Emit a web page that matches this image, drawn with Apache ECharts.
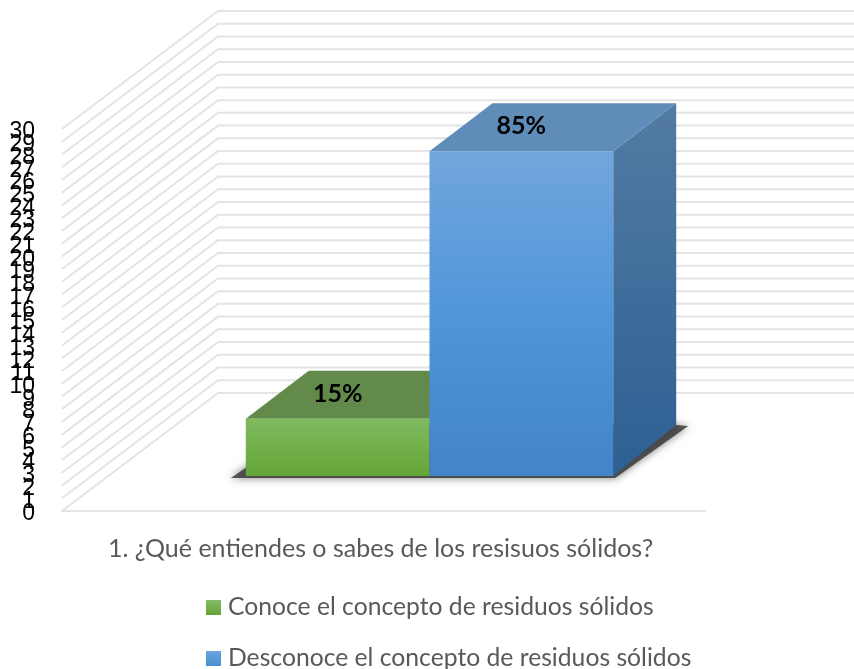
<!DOCTYPE html>
<html>
<head>
<meta charset="utf-8">
<style>
  html, body { margin: 0; padding: 0; background: #fff; }
  #chart { width: 854px; height: 669px; }
</style>
</head>
<body>
<div id="chart"></div>
<script src="https://cdn.jsdelivr.net/npm/echarts@6/dist/echarts.min.js"></script>
<script>
const categories = ['1. ¿Qué entiendes o sabes de los resisuos sólidos?']
const seriesNames = ['Conoce el concepto de residuos sólidos', 'Desconoce el concepto de residuos sólidos']
const seriesValues = [4.5, 25.5]
const seriesLabels = ['15%', '85%']
const tickValues = [0, 1, 2, 3, 4, 5, 6, 7, 8, 9, 10, 11, 12, 13, 14, 15, 16, 17, 18, 19, 20, 21, 22, 23, 24, 25, 26, 27, 28, 29, 30]

const textFont = 'Lato, "Open Sans", sans-serif'

// 3D look of the old spreadsheet chart
const wallDx = 156
const wallDy = 118
const wallRight = 854
const barLiftX = 46
const barLiftY = 35
const barDepthX = 63
const barDepthY = 48
const barsPerBand = 3.5

const vGrad = (top, bottom) => new echarts.graphic.LinearGradient(0, 0, 0, 1, [
  { offset: 0, color: top },
  { offset: 1, color: bottom }
])

const barColors = [
  { front: vGrad('#7fba60', '#65a637'), top: '#628a4b', side: vGrad('#4f7a36', '#3f6a2a'), legend: vGrad('#84bd66', '#62a335') },
  {
    front: new echarts.graphic.LinearGradient(0, 0, 0, 1, [
      { offset: 0, color: '#72a6dd' },
      { offset: 0.5, color: '#5096da' },
      { offset: 1, color: '#4284c8' }
    ]),
    top: '#5f8cb9',
    side: vGrad('#537ba3', '#2d6093'),
    legend: vGrad('#6aa5e0', '#4a8ed2')
  }
]

// wall lines for one tick, plus its label
// the labels are drawn here because the axis drops the ones that overlap
const renderWall = (params, api) => {
  const value = api.value(0)
  const p = api.coord([0, value])
  const x0 = params.coordSys.x
  return {
    type: 'group',
    children: [
      {
        type: 'polyline',
        shape: { points: [[x0, p[1]], [x0 + wallDx, p[1] - wallDy], [wallRight, p[1] - wallDy]] },
        style: { fill: null, stroke: '#e4e4e4', lineWidth: 2 }
      },
      {
        type: 'text',
        x: x0 - 27,
        y: p[1] + 3,
        style: {
          text: String(value),
          align: 'right',
          verticalAlign: 'middle',
          font: '23px "Liberation Sans", sans-serif',
          fill: '#000'
        }
      }
    ]
  }
}

// soft dark shadow on the floor under both bars
const renderShadow = (params, api) => {
  const base = api.coord([0, 0])
  const w = api.size([1, 0])[0] / barsPerBand
  const left = base[0] - w + barLiftX
  const right = base[0] + w + barLiftX
  const y = base[1] - barLiftY
  return {
    type: 'polygon',
    shape: {
      points: [
        [left - 15, y + 2],
        [right + 2, y + 2],
        [right + barDepthX + 12, y - barDepthY - 2],
        [right + barDepthX, y - barDepthY - 3],
        [left + barDepthX, y - barDepthY - 3]
      ]
    },
    style: { fill: 'rgba(60,60,60,0.85)', shadowBlur: 8, shadowColor: 'rgba(0,0,0,0.6)' }
  }
}

const renderBar = (index) => (params, api) => {
  const base = api.coord([0, 0])
  const topPos = api.coord([0, api.value(1)])
  const w = api.size([1, 0])[0] / barsPerBand
  const x0 = base[0] + (index - 1) * w + barLiftX
  const x1 = x0 + w
  const y0 = topPos[1] - barLiftY
  const y1 = base[1] - barLiftY
  const colors = barColors[index]
  return {
    type: 'group',
    children: [
      {
        type: 'polygon',
        shape: { points: [[x1, y0], [x1 + barDepthX, y0 - barDepthY], [x1 + barDepthX, y1 - barDepthY - 3], [x1, y1]] },
        style: { fill: colors.side }
      },
      {
        type: 'polygon',
        shape: { points: [[x0, y0], [x0 + barDepthX, y0 - barDepthY], [x1 + barDepthX, y0 - barDepthY], [x1, y0]] },
        style: { fill: colors.top }
      },
      {
        type: 'rect',
        shape: { x: x0, y: y0, width: w, height: y1 - y0 },
        style: { fill: colors.front }
      },
      {
        type: 'text',
        x: x0 + w / 2,
        y: y0 - 25,
        style: {
          text: seriesLabels[index],
          align: 'center',
          verticalAlign: 'middle',
          font: 'bold 25px ' + textFont,
          fill: '#000'
        }
      }
    ]
  }
}

const chart = echarts.init(document.getElementById('chart'))

chart.setOption({
  animation: false,
  backgroundColor: '#fff',
  grid: { left: 62, right: 149, top: 129, bottom: 158 },
  xAxis: {
    type: 'category',
    data: categories,
    axisTick: { show: false },
    axisLine: { lineStyle: { color: '#e4e4e4', width: 2 } },
    axisLabel: { color: '#595959', fontFamily: textFont, fontSize: 25, margin: 25, padding: [0, 6, 0, 0] }
  },
  yAxis: {
    type: 'value',
    min: 0,
    max: 30,
    interval: 1,
    splitLine: { show: false },
    axisLine: { show: false },
    axisTick: { show: false },
    axisLabel: { show: false }
  },
  legend: {
    left: 206,
    top: 595,
    height: 120,
    padding: 0,
    orient: 'vertical',
    itemWidth: 15,
    itemHeight: 15,
    itemGap: 26,
    textStyle: { color: '#595959', fontFamily: textFont, fontSize: 24.7, lineHeight: 15, padding: [0, 0, 0, 2] },
    data: seriesNames.map((name, i) => ({ name, icon: 'rect', itemStyle: { color: barColors[i].legend } }))
  },
  series: [
    {
      type: 'custom',
      name: 'walls',
      renderItem: renderWall,
      data: tickValues.map(v => [v]),
      encode: { y: 0 },
      silent: true,
      z: 1
    },
    {
      type: 'custom',
      name: 'shadow',
      renderItem: renderShadow,
      data: [[0, 0]],
      silent: true,
      z: 2
    },
    ...seriesNames.map((name, i) => ({
      type: 'custom',
      name,
      renderItem: renderBar(i),
      data: [[0, seriesValues[i]]],
      encode: { x: 0, y: 1 },
      itemStyle: { color: barColors[i].legend },
      z: 3 + i
    }))
  ]
})
</script>
</body>
</html>
